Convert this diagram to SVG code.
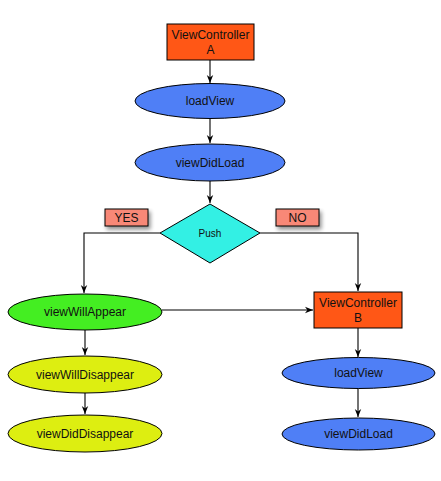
<svg xmlns="http://www.w3.org/2000/svg" width="441" height="481" viewBox="0 0 441 481">
<style>
text{font-family:"Liberation Sans",Arial,sans-serif;font-size:12px;fill:#111;text-anchor:middle}
.box{fill:#FF5716;stroke:#000;stroke-width:1}
.blue{fill:#4F7FF6;stroke:#000;stroke-width:1}
.yel{fill:#DDEE11;stroke:#000;stroke-width:1}
.grn{fill:#44EE22;stroke:#000;stroke-width:1}
.lbl{fill:#F88877;stroke:#000;stroke-width:1}
.c{fill:none;stroke:#000;stroke-width:1.1}
</style>
<defs>
<marker id="ah" viewBox="0 0 10 10" refX="10" refY="5" markerWidth="8" markerHeight="8" markerUnits="userSpaceOnUse" orient="auto">
<path d="M0,1 L10,5 L0,9 L3,5 Z" fill="#000"/>
</marker>
<filter id="sh" x="-20%" y="-20%" width="150%" height="180%">
<feGaussianBlur in="SourceAlpha" stdDeviation="2"/>
<feOffset dx="2" dy="3" result="b"/>
<feComponentTransfer><feFuncA type="linear" slope="0.45"/></feComponentTransfer>
<feMerge><feMergeNode/><feMergeNode in="SourceGraphic"/></feMerge>
</filter>
</defs>
<rect width="441" height="481" fill="#fff"/>
<g id="connectors">
<line class="c" x1="210" y1="60" x2="210" y2="83" marker-end="url(#ah)"/>
<line class="c" x1="210" y1="119" x2="210" y2="143" marker-end="url(#ah)"/>
<line class="c" x1="210" y1="181" x2="210" y2="203" marker-end="url(#ah)"/>
<polyline class="c" points="160,233 84,233 84,293" marker-end="url(#ah)"/>
<polyline class="c" points="260,233 358,233 358,291" marker-end="url(#ah)"/>
<line class="c" x1="162" y1="310" x2="313" y2="310" marker-end="url(#ah)"/>
<line class="c" x1="85" y1="330" x2="85" y2="355" marker-end="url(#ah)"/>
<line class="c" x1="85" y1="393" x2="85" y2="414" marker-end="url(#ah)"/>
<line class="c" x1="358" y1="328" x2="358" y2="357" marker-end="url(#ah)"/>
<line class="c" x1="358" y1="388" x2="358" y2="417" marker-end="url(#ah)"/>
</g>
<g id="vcA"><rect class="box" x="167" y="24" width="87" height="36"/><text x="210.5" y="39">ViewController</text><text x="210.5" y="54">A</text></g>
<g id="loadViewA"><ellipse class="blue" cx="210" cy="101" rx="75" ry="17.5"/><text x="210" y="105">loadView</text></g>
<g id="viewDidLoadA"><ellipse class="blue" cx="210" cy="162.5" rx="75" ry="18.5"/><text x="210" y="167">viewDidLoad</text></g>
<g id="push"><polygon points="210,204 260,233 210,263 160,233" fill="#33F0E4" stroke="#000" stroke-width="1"/><text x="210" y="237" style="font-size:10px">Push</text></g>
<g id="yes"><rect class="lbl" x="105" y="209" width="43" height="17" filter="url(#sh)"/><text x="126.5" y="222">YES</text></g>
<g id="no"><rect class="lbl" x="276" y="209" width="43" height="17" filter="url(#sh)"/><text x="297.5" y="222">NO</text></g>
<g id="viewWillAppear"><ellipse class="grn" cx="85" cy="312" rx="77" ry="18"/><text x="85" y="316">viewWillAppear</text></g>
<g id="viewWillDisappear"><ellipse class="yel" cx="85" cy="374.5" rx="77" ry="18.5"/><text x="85" y="379">viewWillDisappear</text></g>
<g id="viewDidDisappear"><ellipse class="yel" cx="85" cy="433.5" rx="77" ry="18.5"/><text x="85" y="438">viewDidDisappear</text></g>
<g id="vcB"><rect class="box" x="314" y="292" width="88" height="36"/><text x="358" y="307">ViewController</text><text x="358" y="322">B</text></g>
<g id="loadViewB"><ellipse class="blue" cx="358.5" cy="373" rx="76.5" ry="15.5"/><text x="358.5" y="377">loadView</text></g>
<g id="viewDidLoadB"><ellipse class="blue" cx="358.5" cy="434" rx="76.5" ry="16"/><text x="358.5" y="438">viewDidLoad</text></g>
</svg>
